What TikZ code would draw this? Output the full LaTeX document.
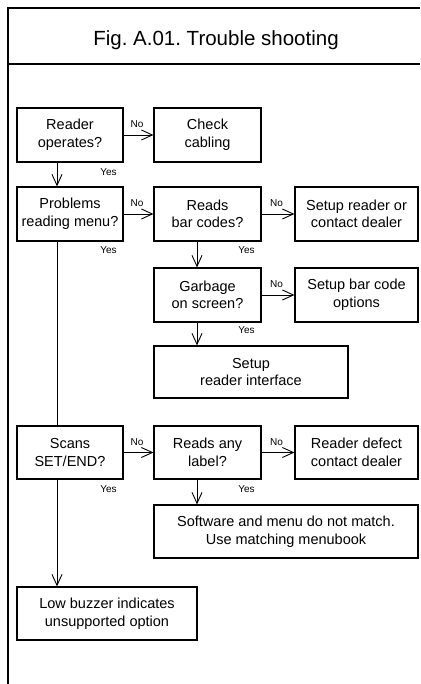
\documentclass[tikz,border=0pt]{standalone}
\usepackage{fontspec}
\setmainfont{Liberation Sans}
\usetikzlibrary{arrows.meta,calc}
\frenchspacing
\begin{document}
\begin{tikzpicture}[x=1pt,y=-1pt,
  box/.style={draw, line width=1.1pt, align=center, inner sep=0pt,
    font=\fontsize{14.5}{17.5}\selectfont},
  conn/.style={line width=0.9pt},
  arr/.style={conn, -{Straight Barb[length=11pt,width=10pt,line width=0.9pt]}},
  lbl/.style={font=\fontsize{10}{11}\selectfont, inner sep=0pt, anchor=base},
  frame/.style={line width=2pt}]
\useasboundingbox (0,0) rectangle (420,684);
% frame
\draw[frame] (420,8) -- (8,8) -- (8,684);
\draw[frame] (8,64) -- (420,64);
\node[font=\fontsize{20.5}{24}\selectfont, inner sep=0pt] (title) at (216,40) {Fig. A.01. Trouble shooting};
% boxes
\node[box, minimum width=106pt, minimum height=54pt] (r1) at (70,135) {Reader\\operates?};
\node[box, minimum width=107pt, minimum height=54pt] (cc) at (207.5,135) {Check\\cabling};
\node[box, minimum width=106pt, minimum height=54pt] (pr) at (70,214) {Problems\\reading menu?};
\node[box, minimum width=107pt, minimum height=54pt] (rb) at (207.5,214) {Reads\\bar codes?};
\node[box, minimum width=123pt, minimum height=54pt] (sr) at (356.5,214) {Setup reader or\\contact dealer};
\node[box, minimum width=107pt, minimum height=54pt] (gs) at (207.5,295) {Garbage\\on screen?};
\node[box, minimum width=123pt, minimum height=54pt] (sb) at (356.5,295) {Setup bar code\\options};
\node[box, minimum width=194pt, minimum height=52pt] (si) at (251,372) {Setup\\reader interface};
\node[box, minimum width=106pt, minimum height=53pt] (sc) at (70,452.5) {Scans\\SET/END?};
\node[box, minimum width=107pt, minimum height=53pt] (ra) at (207.5,452.5) {Reads any\\label?};
\node[box, minimum width=123pt, minimum height=53pt] (rd) at (356.5,452.5) {Reader defect\\contact dealer};
\node[box, minimum width=264pt, minimum height=53pt] (sw) at (286,531.5) {Software and menu do not match.\\Use matching menubook};
\node[box, minimum width=180pt, minimum height=53pt] (lb) at (107,613.5) {Low buzzer indicates\\unsupported option};
% vertical guide coordinates
\coordinate (v1) at (57,0);
\coordinate (v2) at (197,0);
% No connectors
\draw[arr] (r1.east) -- node[lbl, yshift=7.5pt, xshift=-1.5pt] (n1) {No} (cc.west);
\draw[arr] (pr.east) -- node[lbl, yshift=7.5pt, xshift=-1.5pt] (n2) {No} (rb.west);
\draw[arr] (rb.east) -- node[lbl, yshift=7.5pt, xshift=-1.5pt] (n3) {No} (sr.west);
\draw[arr] (gs.east) -- node[lbl, yshift=7.5pt, xshift=-1.5pt] (n4) {No} (sb.west);
\draw[arr] (sc.east) -- node[lbl, yshift=7.5pt, xshift=-1.5pt] (n5) {No} (ra.west);
\draw[arr] (ra.east) -- node[lbl, yshift=7.5pt, xshift=-1.5pt] (n6) {No} (rd.west);
% Yes connectors
\draw[arr] (r1.south -| v1) -- (pr.north -| v1);
\draw[conn] (pr.south -| v1) -- (sc.north -| v1);
\draw[arr] (sc.south -| v1) -- (lb.north -| v1);
\draw[arr] (rb.south -| v2) -- (gs.north -| v2);
\draw[arr] (gs.south -| v2) -- (si.north -| v2);
\draw[arr] (ra.south -| v2) -- (sw.north -| v2);
% Yes labels
\node[lbl] (y1) at ([xshift=-15pt,yshift=-13pt]r1.south east) {Yes};
\node[lbl] (y2) at ([xshift=-15pt,yshift=-12pt]pr.south east) {Yes};
\node[lbl] (y3) at ([xshift=-15pt,yshift=-12pt]rb.south east) {Yes};
\node[lbl] (y4) at ([xshift=-15pt,yshift=-11pt]gs.south east) {Yes};
\node[lbl] (y5) at ([xshift=-15pt,yshift=-12.5pt]sc.south east) {Yes};
\node[lbl] (y6) at ([xshift=-15pt,yshift=-12.5pt]ra.south east) {Yes};
\end{tikzpicture}
\end{document}
